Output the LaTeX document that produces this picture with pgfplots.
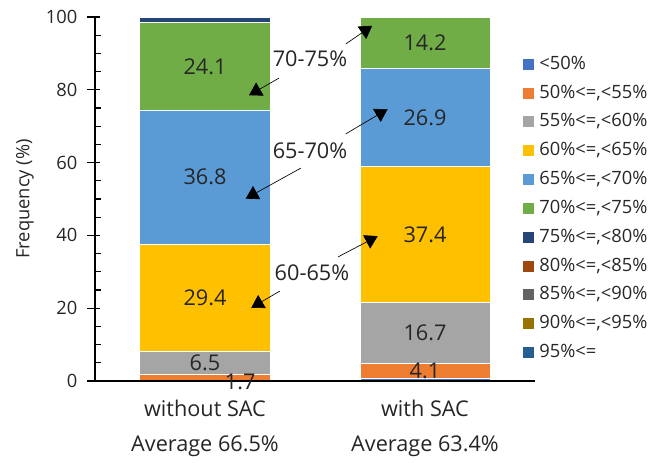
\documentclass[border=0pt]{standalone}
\usepackage{pgfplots}
\pgfplotsset{compat=1.18}
\usepackage{fontspec}
\setmainfont{Open Sans}
\usetikzlibrary{arrows.meta}
\definecolor{c1}{HTML}{4472C4}
\definecolor{c2}{HTML}{ED7D31}
\definecolor{c3}{HTML}{A5A5A5}
\definecolor{c4}{HTML}{FFC000}
\definecolor{c5}{HTML}{5B9BD5}
\definecolor{c6}{HTML}{70AD47}
\definecolor{c7}{HTML}{264478}
\definecolor{c8}{HTML}{9E480E}
\definecolor{c9}{HTML}{636363}
\definecolor{c10}{HTML}{997300}
\definecolor{c11}{HTML}{255E91}
\definecolor{txt}{HTML}{262626}
\tikzset{dl/.style={font=\fontsize{13}{15}\selectfont, text=txt},
  arr/.style={-{Triangle[length=7.5pt,width=9pt]}, line width=0.4pt, black}}
\begin{document}
\begin{tikzpicture}[font=\fontsize{11}{13}\selectfont]
\begin{axis}[
  scale only axis, width=264pt, height=218.4pt,
  ybar stacked, bar width=78pt,
  xmin=-0.5, xmax=1.5, ymin=0, ymax=100,
  clip=false, axis on top,
  axis x line*=bottom, axis y line*=left,
  axis line style={line width=1pt, black, -},
  xtick={0,1},
  xticklabels={{without SAC\\Average 66.5\%},{with SAC\\Average 63.4\%}},
  xticklabel style={align=center, font=\fontsize{13}{21}\selectfont, yshift=-8pt, text=txt},
  xtick style={draw=none},
  ytick={0,20,40,60,80,100}, minor y tick num=3,
  tick align=inside, major tick length=7.8pt, minor tick length=3.6pt,
  ytick style={line width=0.8pt, black},
  major y tick style={xshift=-4.8pt},
  yticklabel style={xshift=-7pt, text=txt},
  /pgf/number format/assume math mode=true,
  ylabel={Frequency (\%)},
  ylabel style={at={(axis description cs:-0.159,0.5)}, anchor=center, font=\fontsize{11}{13}\selectfont, text=txt},
  legend style={at={(rel axis cs:0.9727,0.8985)}, anchor=north west, draw=none, fill=none,
    inner sep=0pt, row sep=5.3pt, font=\fontsize{11}{13}\selectfont, text=txt,
    nodes={inner sep=1pt, text height=8pt, text depth=2pt},
    /tikz/every odd column/.append style={column sep=2pt}},
  legend cell align=left,
  legend image code/.code={\fill[#1,draw=none] (0pt,-3.3pt) rectangle (6.6pt,3.3pt);},
]
\addplot[fill=c1, draw=white, line width=0.6pt] coordinates {(0,0) (1,0.7)};
\addplot[fill=c2, draw=white, line width=0.6pt] coordinates {(0,1.7) (1,4.1)};
\addplot[fill=c3, draw=white, line width=0.6pt] coordinates {(0,6.5) (1,16.7)};
\addplot[fill=c4, draw=white, line width=0.6pt] coordinates {(0,29.4) (1,37.4)};
\addplot[fill=c5, draw=white, line width=0.6pt] coordinates {(0,36.8) (1,26.9)};
\addplot[fill=c6, draw=white, line width=0.6pt] coordinates {(0,24.1) (1,14.2)};
\addplot[fill=c7, draw=white, line width=0.6pt] coordinates {(0,1.5) (1,0)};
\addplot[fill=c8, draw=none] coordinates {(0,0) (1,0)};
\addplot[fill=c9, draw=none] coordinates {(0,0) (1,0)};
\addplot[fill=c10, draw=none] coordinates {(0,0) (1,0)};
\addplot[fill=c11, draw=none] coordinates {(0,0) (1,0)};
\legend{{<50\%},{50\%<=,<55\%},{55\%<=,<60\%},{60\%<=,<65\%},{65\%<=,<70\%},{70\%<=,<75\%},{75\%<=,<80\%},{80\%<=,<85\%},{85\%<=,<90\%},{90\%<=,<95\%},{95\%<=}}

\coordinate (d1) at (axis cs:0.16,-0.3);
\coordinate (d2) at (axis cs:0,4.95);
\coordinate (d3) at (axis cs:0,22.9);
\coordinate (d4) at (axis cs:0,56);
\coordinate (d5) at (axis cs:0,86.45);
\coordinate (e1) at (axis cs:1,2.75);
\coordinate (e2) at (axis cs:1,13.15);
\coordinate (e3) at (axis cs:1,40.2);
\coordinate (e4) at (axis cs:1,72.35);
\coordinate (e5) at (axis cs:1,92.9);
\coordinate (t1) at (axis cs:0.477,88.5);
\coordinate (t2) at (axis cs:0.477,63.2);
\coordinate (t3) at (axis cs:0.486,29.7);
\coordinate (a1s) at (axis cs:0.64,92.6);
\coordinate (a1e) at (axis cs:0.76,97.6);
\coordinate (b1s) at (axis cs:0.336,83.2);
\coordinate (b1e) at (axis cs:0.2,78.5);
\coordinate (a2s) at (axis cs:0.64,67.9);
\coordinate (a2e) at (axis cs:0.83,74.7);
\coordinate (b2s) at (axis cs:0.436,58.5);
\coordinate (b2e) at (axis cs:0.185,50.1);
\coordinate (a3s) at (axis cs:0.605,34.1);
\coordinate (a3e) at (axis cs:0.785,39.8);
\coordinate (b3s) at (axis cs:0.34,24.7);
\coordinate (b3e) at (axis cs:0.21,20.1);
\path (rel axis cs:0,0) ++(-57pt,-48pt) rectangle ++(393pt,276.6pt);
\end{axis}
\node[dl] at (d1) {1.7};
\node[dl] at (d2) {6.5};
\node[dl] at (d3) {29.4};
\node[dl] at (d4) {36.8};
\node[dl] at (d5) {24.1};
\node[dl] at (e1) {4.1};
\node[dl] at (e2) {16.7};
\node[dl] at (e3) {37.4};
\node[dl] at (e4) {26.9};
\node[dl] at (e5) {14.2};
\node[dl] at (t1) {70-75\%};
\node[dl] at (t2) {65-70\%};
\node[dl] at (t3) {60-65\%};
\draw[arr] (a1s) -- (a1e);
\draw[arr] (b1s) -- (b1e);
\draw[arr] (a2s) -- (a2e);
\draw[arr] (b2s) -- (b2e);
\draw[arr] (a3s) -- (a3e);
\draw[arr] (b3s) -- (b3e);
\end{tikzpicture}
\end{document}
